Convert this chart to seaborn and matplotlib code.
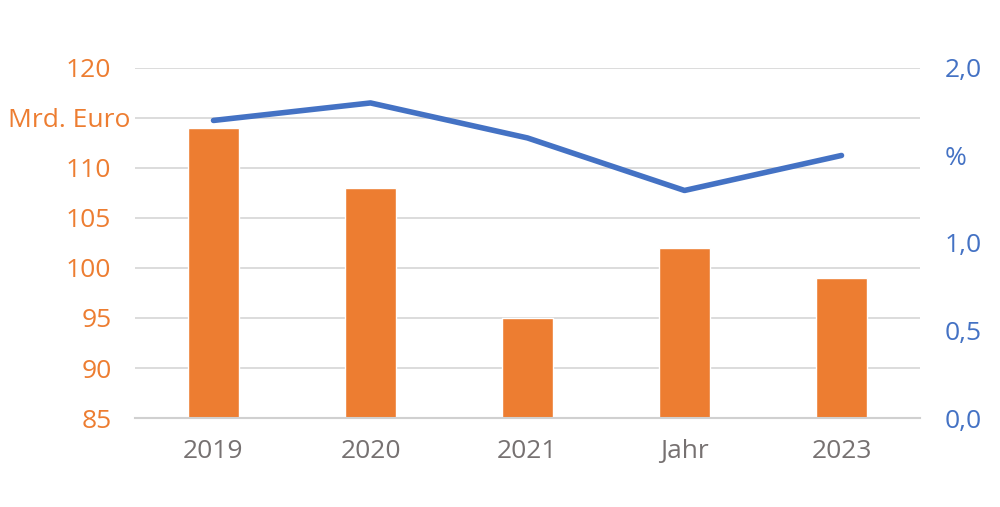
import pandas as pd
import seaborn as sns
import matplotlib.pyplot as plt
import matplotlib.transforms as mtransforms

years = ["2019", "2020", "2021", "Jahr", "2023"]
euro_bn = [114, 108, 95, 102, 99]
percent = [1.7, 1.8, 1.6, 1.3, 1.5]

left_ticks = [85, 90, 95, 100, 105, 110, 115, 120]
left_labels = ["85", "90", "95", "100", "105", "110", "Mrd. Euro", "120"]
right_ticks = [0.0, 0.5, 1.0, 1.5, 2.0]
right_labels = ["0,0", "0,5", "1,0", "%", "2,0"]

ORANGE = "#ED7D31"
BLUE = "#4472C4"
GREY = "#767171"


def main():
    sns.set_theme(style="white")
    plt.rcParams['font.family'] = ['Open Sans', 'DejaVu Sans']

    df = pd.DataFrame({"year": years, "euro": euro_bn, "pct": percent})

    fig = plt.figure(figsize=(10, 5.07), dpi=100)
    ax = fig.add_axes([0.135, 0.1755, 0.785, 0.6905])

    sns.barplot(data=df, x="year", y="euro", color=ORANGE, saturation=1,
                width=0.32, ax=ax, zorder=2)
    ax.set_ylim(85, 120)
    ax.set_yticks(left_ticks)
    ax.set_yticklabels(left_labels)
    ax.yaxis.grid(True, color="#D9D9D9", linewidth=1.3, zorder=0)
    ax.set_axisbelow(True)
    ax.set_xlim(-0.5, 4.5)
    ax.set_xlabel("")
    ax.set_ylabel("")
    ax.tick_params(axis="y", colors=ORANGE, labelsize=19, length=0, pad=17)
    ax.tick_params(axis="x", colors=GREY, labelsize=19, length=0, pad=15)
    # the unit label sits a bit further right than the numbers
    shift = mtransforms.ScaledTranslation(19 / 100, 0, fig.dpi_scale_trans)
    for lab in ax.get_yticklabels():
        lab.set_color(ORANGE)
        if lab.get_text() == "Mrd. Euro":
            lab.set_transform(lab.get_transform() + shift)
    for side in ["top", "left", "right"]:
        ax.spines[side].set_visible(False)
    ax.spines["bottom"].set_color("#D0D0D0")
    ax.spines["bottom"].set_linewidth(1.5)

    ax2 = ax.twinx()
    sns.lineplot(data=df, x="year", y="pct", color=BLUE, linewidth=4,
                 ax=ax2, solid_capstyle="round")
    ax2.set_ylim(0, 2.0)
    ax2.set_yticks(right_ticks)
    ax2.set_yticklabels(right_labels)
    ax2.set_ylabel("")
    ax2.tick_params(axis="y", colors=BLUE, labelsize=19, length=0, pad=18)
    for side in ["top", "left", "right", "bottom"]:
        ax2.spines[side].set_visible(False)
    ax2.grid(False)

    fig.savefig("out.png", dpi=100)
    plt.close(fig)


if __name__ == "__main__":
    main()
